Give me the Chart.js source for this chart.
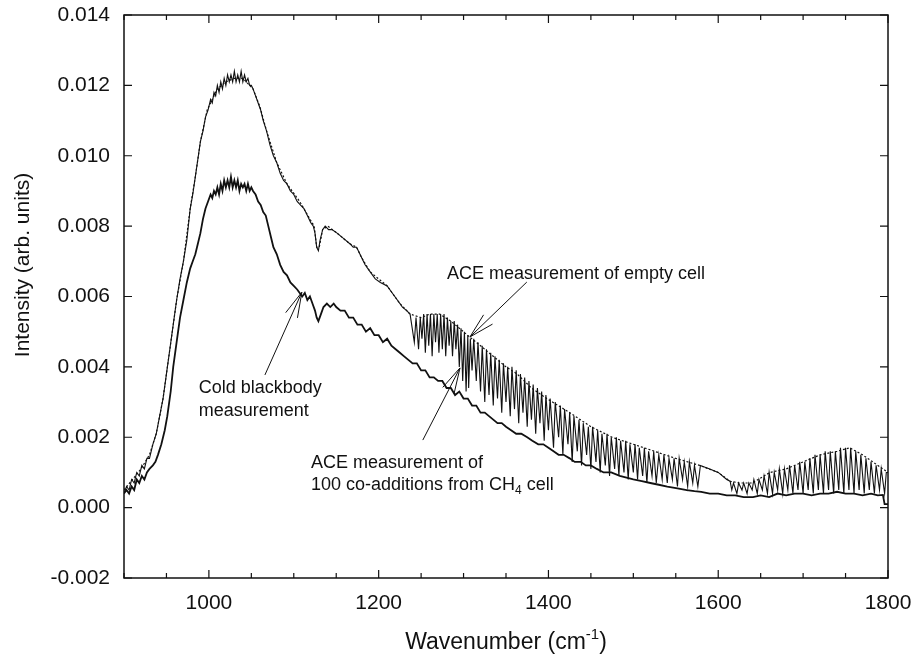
<!DOCTYPE html>
<html>
<head>
<meta charset="utf-8">
<script src="https://cdn.jsdelivr.net/npm/chart.js@4.4.0/dist/chart.umd.min.js"></script>
<style>
  html, body { margin: 0; padding: 0; background: #fff; }
  #wrap { width: 916px; height: 659px; }
</style>
</head>
<body>
<div id="wrap"><canvas id="spectrum" width="916" height="659"></canvas></div>
<script>
/***** Data: [wavenumber (cm-1), intensity] *****/
const xTicks = [1000, 1200, 1400, 1600, 1800];
const yTicks = [-0.002, 0.000, 0.002, 0.004, 0.006, 0.008, 0.010, 0.012, 0.014];

// ACE measurement of empty cell (dotted)
const emptyCell = [
	[900,0.0005],[910,0.0008],[920,0.0011],[930,0.0015],[938,0.0021],[946,0.0031],[954,0.0045],
	[962,0.0059],[970,0.0070],[978,0.0085],[984,0.0094],[990,0.0104],[998,0.0113],[1010,0.0119],
	[1020,0.0121],[1030,0.0122],[1040,0.0122],[1052,0.0119],[1060,0.0114],[1068,0.0107],[1080,0.0098],
	[1092,0.0092],[1107,0.0087],[1119,0.0082],[1124,0.0080],[1127,0.0074],[1130,0.0074],[1134,0.0079],
	[1140,0.0080],[1151,0.0078],[1166,0.0075],[1174,0.0074],[1180,0.0071],[1190,0.0067],[1210,0.0063],
	[1225,0.0058],[1237,0.0055],[1250,0.0054],[1260,0.0055],[1272,0.0055],[1285,0.0053],[1295,0.0051],
	[1307,0.00485],[1320,0.0046],[1335,0.0043],[1350,0.0040],[1363,0.0038],[1380,0.0034],[1398,0.0031],
	[1425,0.0027],[1450,0.0023],[1475,0.0020],[1500,0.0018],[1525,0.0016],[1550,0.0014],[1578,0.0012],
	[1600,0.0010],[1614,0.00075],[1625,0.0007],[1640,0.0007],[1661,0.0010],[1680,0.0011],[1700,0.0013],
	[1720,0.0015],[1740,0.0016],[1755,0.0017],[1770,0.0015],[1782,0.0013],[1800,0.0010]
];

// ACE measurement of 100 co-additions from CH4 cell (solid, with absorption lines)
const ch4Cell = [
	[900,0.0004],[903,0.0006],[906,0.0005],[909,0.0008],[912,0.0007],[915,0.0010],[918,0.0009],
	[921,0.0012],[924,0.0011],[927,0.0014],[930,0.0014],[934,0.0018],[938,0.0021],[942,0.0026],
	[946,0.0031],[950,0.0038],[954,0.0045],[958,0.0052],[962,0.0059],[966,0.0065],[970,0.0070],
	[974,0.0076],[978,0.0085],[981,0.0089],[984,0.0094],[987,0.0099],[990,0.0104],[993,0.0107],
	[996,0.0111],[999,0.0113],[1002,0.0116],[1004,0.0115],[1006,0.0118],[1008,0.0117],[1010,0.0120],
	[1012,0.0118],[1014,0.0121],[1016,0.0119],[1018,0.0122],[1020,0.0120],[1022,0.0123],[1024,0.0121],
	[1026,0.0123],[1028,0.0121],[1030,0.0124],[1032,0.0121],[1034,0.0123],[1036,0.0121],[1038,0.0124],
	[1040,0.0121],[1042,0.0123],[1044,0.0121],[1046,0.0122],[1048,0.0120],[1050,0.0120],[1052,0.0119],
	[1055,0.0117],[1058,0.0115],[1061,0.0113],[1064,0.0110],[1068,0.0107],[1072,0.0103],[1076,0.0100],
	[1080,0.0098],[1084,0.0095],[1088,0.0093],[1092,0.0092],[1096,0.0090],[1100,0.0089],[1104,0.0087],
	[1108,0.0086],[1112,0.0085],[1116,0.0083],[1120,0.0081],[1123,0.0080],[1125,0.0078],[1127,0.0074],
	[1129,0.0073],[1131,0.0076],[1134,0.0079],[1137,0.0080],[1141,0.0079],[1145,0.0079],[1151,0.0078],
	[1156,0.0077],[1161,0.0076],[1166,0.0075],[1170,0.0074],[1174,0.0074],[1178,0.0072],[1184,0.0069],
	[1190,0.0067],[1196,0.0065],[1202,0.0064],[1210,0.0063],[1216,0.0061],[1222,0.0059],[1228,0.0057],
	[1233,0.0056],[1237,0.0055],
	[1242,0.0047],[1244,0.0054],[1247,0.0045],[1249,0.0054],[1251,0.0048],[1253,0.0055],[1255,0.0044],
	[1257,0.0055],[1259,0.0046],[1261,0.0055],[1263,0.0043],[1265,0.0055],[1267,0.0047],[1269,0.0055],
	[1271,0.0044],[1273,0.0055],[1275,0.0045],[1277,0.0055],[1279,0.0043],[1281,0.0054],[1283,0.0046],
	[1285,0.0053],[1287,0.0043],[1289,0.0053],[1291,0.0045],[1293,0.0052],[1295,0.0040],[1297,0.0051],
	[1299,0.0036],[1301,0.0050],[1303,0.0033],[1305,0.0049],[1306,0.0034],[1308,0.0048],[1310,0.0039],
	[1312,0.0048],[1315,0.0036],[1317,0.0047],[1320,0.0033],[1322,0.0046],[1325,0.0030],[1327,0.0045],
	[1330,0.0032],[1332,0.0044],[1335,0.0029],[1337,0.0043],[1340,0.0031],[1342,0.0042],[1345,0.0027],
	[1347,0.0041],[1350,0.0030],[1352,0.0040],[1355,0.0026],[1357,0.0040],[1360,0.0028],[1362,0.0039],
	[1365,0.0024],[1367,0.0038],[1370,0.0027],[1372,0.0037],[1375,0.0023],[1377,0.0036],[1380,0.0025],
	[1382,0.0035],[1385,0.0021],[1387,0.0034],[1390,0.0024],[1392,0.0033],[1395,0.0019],[1397,0.0032],
	[1400,0.0022],[1402,0.0031],[1406,0.0017],[1408,0.0030],[1412,0.0020],[1414,0.0029],[1417,0.0015],
	[1419,0.0028],[1423,0.0018],[1425,0.0027],[1428,0.0013],[1430,0.0026],[1434,0.0016],[1436,0.0025],
	[1439,0.0012],[1441,0.0024],[1445,0.0015],[1447,0.0023],[1450,0.0011],[1452,0.0023],[1456,0.0013],
	[1458,0.0022],[1461,0.0010],[1463,0.0021],[1467,0.0012],[1469,0.0021],[1472,0.0009],[1474,0.0020],
	[1478,0.0011],[1480,0.0020],[1483,0.0009],[1485,0.0019],[1489,0.0010],[1491,0.0019],[1494,0.0008],
	[1496,0.0018],[1500,0.0010],[1502,0.0018],[1505,0.0008],[1507,0.0017],[1511,0.0009],[1513,0.0017],
	[1516,0.0007],[1518,0.0016],[1522,0.0009],[1524,0.0016],[1527,0.0007],[1530,0.0015],[1534,0.0008],
	[1536,0.0015],[1540,0.0007],[1542,0.0014],[1546,0.0008],[1548,0.0014],[1552,0.0006],[1554,0.0014],
	[1558,0.0008],[1560,0.0013],[1564,0.0006],[1566,0.0013],[1570,0.0007],[1572,0.0012],[1576,0.0006],
	[1579,0.0012],[1590,0.0011],[1600,0.0010],[1610,0.0008],[1614,0.00075],[1616,0.0005],[1618,0.0007],
	[1622,0.0004],[1624,0.0007],[1628,0.0005],[1630,0.0007],[1634,0.0004],[1636,0.0007],[1640,0.0005],
	[1642,0.0008],[1646,0.0004],[1648,0.0008],[1652,0.0005],[1654,0.0009],[1658,0.0004],[1660,0.0010],
	[1664,0.0004],[1666,0.0010],[1670,0.0005],[1672,0.0011],[1676,0.0004],[1678,0.0011],[1682,0.0005],
	[1684,0.0012],[1688,0.0004],[1690,0.0012],[1694,0.0005],[1696,0.0013],[1700,0.0004],[1702,0.0013],
	[1706,0.0005],[1708,0.0014],[1712,0.0004],[1714,0.0015],[1718,0.0005],[1720,0.0015],[1724,0.0004],
	[1726,0.0016],[1730,0.0005],[1732,0.0016],[1736,0.0004],[1738,0.0016],[1742,0.0005],[1744,0.0017],
	[1748,0.0004],[1750,0.0017],[1754,0.0005],[1756,0.0017],[1760,0.0004],[1762,0.0016],[1766,0.0005],
	[1768,0.0015],[1772,0.0004],[1774,0.0014],[1778,0.0005],[1780,0.0013],[1784,0.0004],[1786,0.0012],
	[1790,0.0005],[1792,0.0011],[1796,0.0004],[1798,0.0010],[1800,0.0010]
];

// Cold blackbody measurement (solid)
const coldBlackbody = [
	[900,0.0004],[903,0.0005],[906,0.0004],[909,0.0006],[912,0.0005],[915,0.0008],[918,0.0007],
	[921,0.0009],[924,0.0008],[927,0.0010],[930,0.0011],[934,0.0012],[937,0.0013],[940,0.0015],
	[944,0.0018],[948,0.0022],[951,0.0026],[955,0.0033],[958,0.0040],[962,0.0047],[966,0.0054],
	[970,0.0059],[974,0.0064],[978,0.0068],[981,0.0070],[984,0.0072],[987,0.0075],[990,0.0078],
	[993,0.0082],[996,0.0085],[999,0.0087],[1002,0.0089],[1004,0.0088],[1006,0.0090],[1008,0.0089],
	[1010,0.0091],[1012,0.0089],[1014,0.0092],[1016,0.0090],[1018,0.0093],[1020,0.0091],[1022,0.0093],
	[1024,0.0091],[1026,0.0094],[1028,0.0091],[1030,0.0093],[1032,0.0091],[1034,0.0093],[1036,0.0090],
	[1038,0.0092],[1040,0.0091],[1042,0.0092],[1044,0.0090],[1046,0.0092],[1048,0.0090],[1050,0.0091],
	[1052,0.0090],[1055,0.0089],[1058,0.0087],[1061,0.0086],[1064,0.0084],[1067,0.0083],[1070,0.0080],
	[1073,0.0077],[1076,0.0074],[1080,0.0072],[1084,0.0069],[1088,0.0067],[1092,0.0066],[1096,0.0064],
	[1100,0.0063],[1104,0.0062],[1107,0.0061],[1110,0.0060],[1113,0.0061],[1116,0.0059],[1119,0.0060],
	[1122,0.0058],[1125,0.0056],[1127,0.0054],[1129,0.0053],[1132,0.0055],[1135,0.0057],[1139,0.0058],
	[1143,0.0057],[1147,0.0058],[1150,0.0057],[1155,0.0056],[1160,0.0056],[1165,0.0054],[1170,0.0054],
	[1175,0.0052],[1180,0.0052],[1185,0.0050],[1190,0.0051],[1195,0.0049],[1200,0.0049],[1205,0.0047],
	[1210,0.0048],[1215,0.0046],[1220,0.0045],[1225,0.0044],[1230,0.0043],[1235,0.0042],[1240,0.0041],
	[1245,0.0041],[1250,0.0039],[1255,0.0039],[1260,0.0037],[1265,0.0037],[1270,0.0036],[1275,0.0036],
	[1280,0.0034],[1285,0.0034],[1290,0.0032],[1295,0.0033],[1300,0.0031],[1305,0.0031],[1310,0.0029],
	[1315,0.0029],[1320,0.0027],[1325,0.0027],[1330,0.0026],[1335,0.0025],[1340,0.0024],[1345,0.0024],
	[1350,0.0023],[1356,0.0022],[1362,0.0021],[1368,0.0021],[1375,0.0020],[1381,0.0019],[1388,0.0018],
	[1394,0.0018],[1400,0.0017],[1406,0.0016],[1412,0.0015],[1418,0.0015],[1425,0.0014],[1431,0.0013],
	[1438,0.0013],[1444,0.0012],[1450,0.0012],[1457,0.0011],[1465,0.0010],[1474,0.0010],[1484,0.0009],
	[1492,0.00085],[1500,0.0008],[1510,0.00075],[1520,0.0007],[1530,0.00065],[1540,0.0006],[1552,0.00055],
	[1563,0.0005],[1572,0.00047],[1580,0.00045],[1590,0.0004],[1600,0.0004],[1610,0.00035],[1620,0.00035],
	[1630,0.0003],[1641,0.0003],[1650,0.00035],[1660,0.0003],[1670,0.0004],[1680,0.00035],[1690,0.0004],
	[1700,0.0004],[1710,0.00035],[1720,0.0004],[1730,0.0004],[1740,0.00045],[1750,0.0004],[1760,0.0004],
	[1770,0.00035],[1780,0.0004],[1788,0.00035],[1794,0.00036],[1796,0.0001],[1800,0.0001]
];

const FONT = "'Liberation Sans', Arial, Helvetica, sans-serif";
const toPoints = arr => arr.map(p => ({ x: p[0], y: p[1] }));

// Annotations in data units (text anchor = left end of baseline)
const notes = [
	{ text: ['Cold blackbody', 'measurement'], x: 988, y: [0.00326, 0.00260],
	  arrow: { from: [1066, 0.00377], to: [1109.5, 0.00612] } },
	{ text: ['ACE measurement of empty cell'], x: 1280.5, y: [0.00650],
	  arrow: { from: [1374.5, 0.00641], to: [1307.5, 0.00485] } },
	{ text: ['ACE measurement of', '100 co-additions from CH|4| cell'], x: 1120.3, y: [0.00113, 0.00050],
	  arrow: { from: [1252, 0.00192], to: [1295.8, 0.00397] } }
];

function drawArrow(ctx, x1, y1, x2, y2) {
	ctx.beginPath(); ctx.moveTo(x1, y1); ctx.lineTo(x2, y2); ctx.stroke();
	const a = Math.atan2(y1 - y2, x1 - x2), len = 26, spread = 0.25;
	ctx.beginPath();
	ctx.moveTo(x2 + len * Math.cos(a - spread), y2 + len * Math.sin(a - spread));
	ctx.lineTo(x2, y2);
	ctx.lineTo(x2 + len * Math.cos(a + spread), y2 + len * Math.sin(a + spread));
	ctx.stroke();
}

// text with |sub| parts drawn as subscripts
function drawRich(ctx, str, x, y, size) {
	const parts = str.split('|');
	parts.forEach((p, i) => {
		const sub = i % 2 === 1;
		ctx.font = (sub ? Math.round(size * 0.65) : size) + 'px ' + FONT;
		ctx.fillText(p, x, sub ? y + size * 0.22 : y);
		x += ctx.measureText(p).width;
	});
}

const framePlugin = {
	id: 'frame',
	afterDraw(chart) {
		const { ctx, chartArea: a, scales: { x, y } } = chart;
		ctx.save();
		ctx.strokeStyle = '#111';
		ctx.lineWidth = 1.5;
		ctx.strokeRect(a.left, a.top, a.right - a.left, a.bottom - a.top);

		// inward ticks, minor every 50 cm-1, major at labelled values
		ctx.lineWidth = 1.2;
		ctx.beginPath();
		for (let v = 900; v <= 1800; v += 50) {
			const px = x.getPixelForValue(v);
			const len = xTicks.includes(v) ? 8 : 5;
			ctx.moveTo(px, a.bottom); ctx.lineTo(px, a.bottom - len);
			ctx.moveTo(px, a.top); ctx.lineTo(px, a.top + len);
		}
		yTicks.forEach(v => {
			const py = y.getPixelForValue(v);
			ctx.moveTo(a.left, py); ctx.lineTo(a.left + 8, py);
			ctx.moveTo(a.right, py); ctx.lineTo(a.right - 8, py);
		});
		ctx.stroke();

		// annotations
		ctx.fillStyle = '#111';
		ctx.lineWidth = 1;
		ctx.textBaseline = 'alphabetic';
		ctx.textAlign = 'left';
		notes.forEach(n => {
			n.text.forEach((t, i) => drawRich(ctx, t, x.getPixelForValue(n.x), y.getPixelForValue(n.y[i]), 18));
			drawArrow(ctx,
				x.getPixelForValue(n.arrow.from[0]), y.getPixelForValue(n.arrow.from[1]),
				x.getPixelForValue(n.arrow.to[0]), y.getPixelForValue(n.arrow.to[1]));
		});

		// axis titles
		ctx.font = '21px ' + FONT;
		ctx.textAlign = 'center';
		ctx.textBaseline = 'middle';
		ctx.save();
		ctx.translate(23, 265);
		ctx.rotate(-Math.PI / 2);
		ctx.fillText('Intensity (arb. units)', 0, 0);
		ctx.restore();

		const main = 'Wavenumber (cm', sup = '-1', close = ')';
		ctx.textAlign = 'left';
		ctx.textBaseline = 'alphabetic';
		ctx.font = '23px ' + FONT;
		const w1 = ctx.measureText(main).width, w3 = ctx.measureText(close).width;
		ctx.font = '15px ' + FONT;
		const w2 = ctx.measureText(sup).width;
		let tx = (a.left + a.right) / 2 - (w1 + w2 + w3) / 2;
		const base = 649;
		ctx.font = '23px ' + FONT;
		ctx.fillText(main, tx, base); tx += w1;
		ctx.font = '15px ' + FONT;
		ctx.fillText(sup, tx, base - 10); tx += w2;
		ctx.font = '23px ' + FONT;
		ctx.fillText(close, tx, base);
		ctx.restore();
	}
};

new Chart(document.getElementById('spectrum'), {
	type: 'line',
	data: {
		datasets: [
			{ label: 'CH4 cell', data: toPoints(ch4Cell), borderColor: '#111', borderWidth: 1.1 },
			{ label: 'Cold blackbody', data: toPoints(coldBlackbody), borderColor: '#111', borderWidth: 1.8 },
			{ label: 'Empty cell', data: toPoints(emptyCell), borderColor: '#111', borderWidth: 1.2, borderDash: [2, 2] }
		]
	},
	options: {
		responsive: false,
		animation: false,
		devicePixelRatio: 1,
		layout: { padding: { top: 15, right: 28, left: 0, bottom: 0 } },
		elements: { point: { radius: 0 }, line: { tension: 0, fill: false } },
		plugins: { legend: { display: false }, tooltip: { enabled: false } },
		scales: {
			x: {
				type: 'linear', min: 900, max: 1800,
				grid: { display: false, drawTicks: false }, border: { display: false },
				ticks: {
					stepSize: 200, padding: 13, color: '#111', maxRotation: 0,
					font: { family: FONT, size: 21 },
					callback: v => xTicks.includes(v) ? String(v) : ''
				},
				// fixed box so the plot frame lands where the original has it
				afterFit: s => { s.height = 81; s.paddingLeft = 0; s.paddingRight = 0; }
			},
			y: {
				type: 'linear', min: -0.002, max: 0.014,
				grid: { display: false, drawTicks: false }, border: { display: false },
				ticks: {
					stepSize: 0.002, padding: 14, color: '#111',
					font: { family: FONT, size: 21 },
					callback: v => (Math.abs(v) < 1e-9 ? 0 : v).toFixed(3)
				},
				afterFit: s => { s.width = 124; s.paddingTop = 0; s.paddingBottom = 0; }
			}
		}
	},
	plugins: [framePlugin]
});
</script>
</body>
</html>
